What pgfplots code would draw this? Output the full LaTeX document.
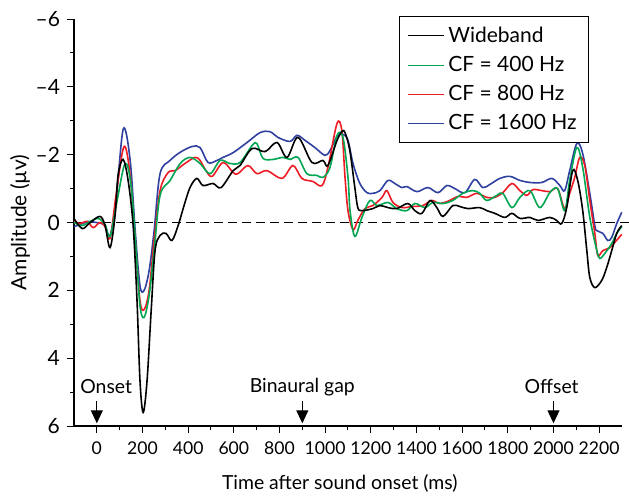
\documentclass[border=0pt]{standalone}
\usepackage{fontspec}
\setmainfont{Lato}
\usepackage{pgfplots}
\pgfplotsset{compat=1.18}
\usetikzlibrary{arrows.meta}

\definecolor{cfgreen}{RGB}{0,166,81}
\definecolor{cfred}{RGB}{237,28,36}
\definecolor{cfblue}{RGB}{46,64,160}

\newcommand{\chartfont}{\fontsize{10.5}{12}\selectfont}
\newcommand{\notefont}{\fontsize{9.7}{11}\selectfont}
\newcommand{\tickfont}{\fontsize{8.8}{10}\selectfont}

\begin{document}
\begin{tikzpicture}
\path[use as bounding box] (-37pt,-37pt) rectangle (277.5pt,213pt);
\begin{axis}[
  scale only axis,
  width=274pt, height=203.5pt,
  at={(0,0)}, anchor=south west,
  xmin=-100, xmax=2300,
  ymin=-6, ymax=6,
  y dir=reverse,
  axis x line=bottom, axis y line=left,
  x axis line style={-, line width=0.6pt},
  y axis line style={-, line width=0.6pt},
  tick align=outside,
  major tick length=3.5pt, minor tick length=2pt,
  tick style={line width=0.5pt, black},
  xtick={0,200,...,2200}, minor x tick num=1,
  ytick={-6,-4,-2,0,2,4,6}, minor y tick num=1,
  yticklabels={–6,–4,–2,0,2,4,6},
  /pgf/number format/1000 sep={},
  /pgf/number format/assume math mode=true,
  ticklabel style={font=\tickfont},
  yticklabel style={font=\chartfont},
  xticklabel style={yshift=-1pt},
  xlabel={Time after sound onset (ms)},
  ylabel={Amplitude (µv)},
  xlabel style={font=\notefont, at={(axis description cs:0.485,-0.14)}, anchor=center},
  ylabel style={font=\chartfont, at={(axis description cs:-0.0985,0.5)}, anchor=center},
  clip=false,
  every axis plot/.append style={line width=0.8pt, smooth, tension=0.55},
  reverse legend,
  legend cell align=left,
  legend style={at={(0.94,1.007)}, anchor=north east, draw=black,
    line width=0.5pt, font=\chartfont,
    inner xsep=4pt, inner ysep=3pt, row sep=1.5pt},
  legend image code/.code={\draw[#1, line width=0.6pt] (0pt,0pt) -- (18pt,0pt);},
]

% zero line
\draw[dashed, dash pattern=on 4.5pt off 2.5pt, line width=0.5pt]
  (axis cs:-100,0) -- (axis cs:2330,0);

% CF = 1600 Hz
\addplot[cfblue] coordinates {
(-100,0.12) (-73,0.06) (-38,-0.03) (-3,0) (32,0.06) (58,0.38) (84,-0.65)
(116,-2.76) (146,-1.83) (168,0.24) (189,1.86) (207,2.0) (229,1.42) (251,0.24)
(277,-1.44) (321,-1.83) (365,-2.07) (417,-2.24) (452,-2.21) (487,-1.77)
(526,-1.83) (553,-1.92) (597,-2.06) (658,-2.36) (715,-2.65) (758,-2.68)
(793,-2.51) (846,-2.39) (877,-2.57) (912,-2.42) (955,-2.21) (999,-1.98)
(1021,-2.12) (1052,-2.54) (1078,-2.60) (1100,-2.42) (1122,-1.74) (1152,-1.15)
(1183,-0.88) (1209,-0.86) (1240,-0.94) (1275,-1.24) (1305,-1.15) (1336,-1.03)
(1358,-1.06) (1402,-0.91) (1450,-1.03) (1494,-0.88) (1533,-1.09) (1568,-1.00)
(1612,-0.88) (1655,-1.27) (1690,-1.03) (1721,-1.12) (1765,-1.30) (1809,-1.36)
(1853,-1.24) (1897,-1.18) (1949,-1.18) (1993,-1.30) (2028,-1.09) (2049,-0.94)
(2071,-1.53) (2102,-2.33) (2128,-2.03) (2159,-0.86) (2181,0.09) (2190,0.24)
(2216,0.32) (2238,0.53) (2255,0.44) (2277,0.03) (2299,-0.30)
};
\addlegendentry{CF = 1600 Hz}

% CF = 800 Hz
\addplot[cfred] coordinates {
(-100,-0.03) (-73,0.03) (-42,-0.03) (-16,0.15) (14,0) (36,0.12) (58,0.47)
(84,-0.80) (119,-2.24) (146,-1.39) (168,0.53) (189,2.30) (207,2.57) (229,2.0)
(251,0.53) (277,-0.94) (312,-1.47) (343,-1.53) (386,-1.74) (430,-1.92)
(452,-1.83) (478,-1.53) (505,-1.36) (553,-1.77) (597,-1.47) (618,-1.44)
(662,-1.68) (701,-1.44) (745,-1.53) (811,-1.30) (859,-1.68) (898,-1.30)
(946,-1.21) (986,-1.09) (1012,-1.62) (1052,-2.92) (1073,-2.71) (1087,-1.33)
(1100,-0.35) (1122,0.21) (1143,-0.06) (1174,-0.41) (1209,-0.50) (1249,-0.74)
(1270,-0.94) (1297,-0.59) (1336,-0.44) (1380,-0.47) (1428,-0.50) (1467,-0.65)
(1502,-0.56) (1546,-0.65) (1581,-0.77) (1620,-0.74) (1664,-0.86) (1708,-0.74)
(1743,-0.74) (1778,-0.88) (1818,-1.15) (1853,-0.94) (1883,-0.80) (1910,-0.97)
(1949,-0.94) (1984,-0.91) (2018,-1.00) (2049,-0.41) (2071,-0.86) (2093,-1.33)
(2115,-1.92) (2137,-1.68) (2159,-0.65) (2181,0.32) (2194,0.97) (2216,0.83)
(2247,0.74) (2268,0.59) (2299,0.35)
};
\addlegendentry{CF = 800 Hz}

% CF = 400 Hz
\addplot[cfgreen] coordinates {
(-100,0) (-64,0.09) (-29,-0.03) (6,-0.12) (36,0.06) (58,0.41) (89,-0.65)
(124,-1.74) (150,-1.09) (172,0.83) (189,2.45) (207,2.80) (229,2.15) (251,0.83)
(277,-0.80) (321,-1.24) (365,-1.74) (408,-1.92) (452,-1.74) (496,-1.44)
(540,-1.83) (583,-1.74) (627,-1.77) (680,-2.27) (701,-2.33) (728,-1.89)
(772,-1.86) (815,-1.92) (846,-1.86) (881,-1.92) (920,-1.44) (964,-1.39)
(990,-1.33) (1021,-1.62) (1052,-2.57) (1078,-2.51) (1100,-1.33) (1109,-0.35)
(1130,0.41) (1161,-0.15) (1196,-0.65) (1227,-0.50) (1275,-0.59) (1314,-0.41)
(1358,-0.35) (1393,-0.56) (1437,-0.44) (1472,-0.59) (1516,-0.56) (1559,-0.65)
(1603,-0.86) (1647,-0.94) (1677,-0.86) (1708,-0.65) (1752,-0.80) (1778,-0.86)
(1818,-0.44) (1853,-0.74) (1897,-0.94) (1940,-0.44) (1984,-0.88) (2018,-1.00)
(2049,-0.35) (2071,-1.24) (2102,-2.21) (2128,-1.62) (2159,-0.15) (2190,0.83)
(2203,1.06) (2225,0.91) (2255,0.62) (2277,0.32) (2299,0.12)
};
\addlegendentry{CF = 400 Hz}

% Wideband
\addplot[black] coordinates {
(-100,-0.12) (-64,0.18) (-29,0) (14,-0.18) (36,0.09) (58,0.74) (80,-0.21)
(93,-1.39) (115,-1.86) (137,-1.24) (159,0.09) (176,2.30) (189,4.66) (203,5.60)
(220,4.66) (238,2.60) (255,0.83) (277,0.38) (303,0.32) (329,0.53) (356,0.09)
(382,-0.50) (408,-1.03) (438,-1.30) (465,-1.09) (509,-1.15) (544,-1.03)
(597,-1.53) (627,-1.68) (680,-2.18) (737,-2.09) (789,-2.36) (833,-1.92)
(881,-2.51) (942,-1.77) (990,-1.83) (1012,-1.68) (1052,-2.42) (1073,-2.68)
(1087,-2.65) (1108,-2.12) (1130,-1.03) (1143,-0.44) (1161,-0.35) (1209,-0.41)
(1240,-0.50) (1275,-0.44) (1314,-0.41) (1362,-0.56) (1393,-0.35) (1424,-0.27)
(1459,-0.65) (1489,-0.44) (1516,-0.18) (1559,-0.50) (1590,-0.47) (1625,-0.41)
(1677,-0.44) (1708,-0.35) (1743,-0.27) (1787,-0.15) (1818,-0.27) (1853,-0.12)
(1897,-0.15) (1932,-0.06) (1984,-0.15) (2014,-0.06) (2036,0.03) (2058,-0.44)
(2084,-1.53) (2106,-1.24) (2128,-0.35) (2146,0.83) (2159,1.62) (2181,1.92)
(2211,1.71) (2233,1.33) (2255,0.83) (2277,0.32) (2299,0.09)
};
\addlegendentry{Wideband}

% event markers
\node[font=\notefont] at (axis cs:41,4.84) {Onset};
\node[font=\notefont] at (axis cs:900,4.84) {Binaural gap};
\node[font=\notefont] at (axis cs:1992,4.84) {Offset};
\draw[line width=0.5pt, -{Triangle[length=6.5pt,width=6pt]}] (axis cs:0,5.27) -- (axis cs:0,5.92);
\draw[line width=0.5pt, -{Triangle[length=6.5pt,width=6pt]}] (axis cs:900,5.27) -- (axis cs:900,5.92);
\draw[line width=0.5pt, -{Triangle[length=6.5pt,width=6pt]}] (axis cs:2000,5.27) -- (axis cs:2000,5.92);
\end{axis}
\end{tikzpicture}
\end{document}
